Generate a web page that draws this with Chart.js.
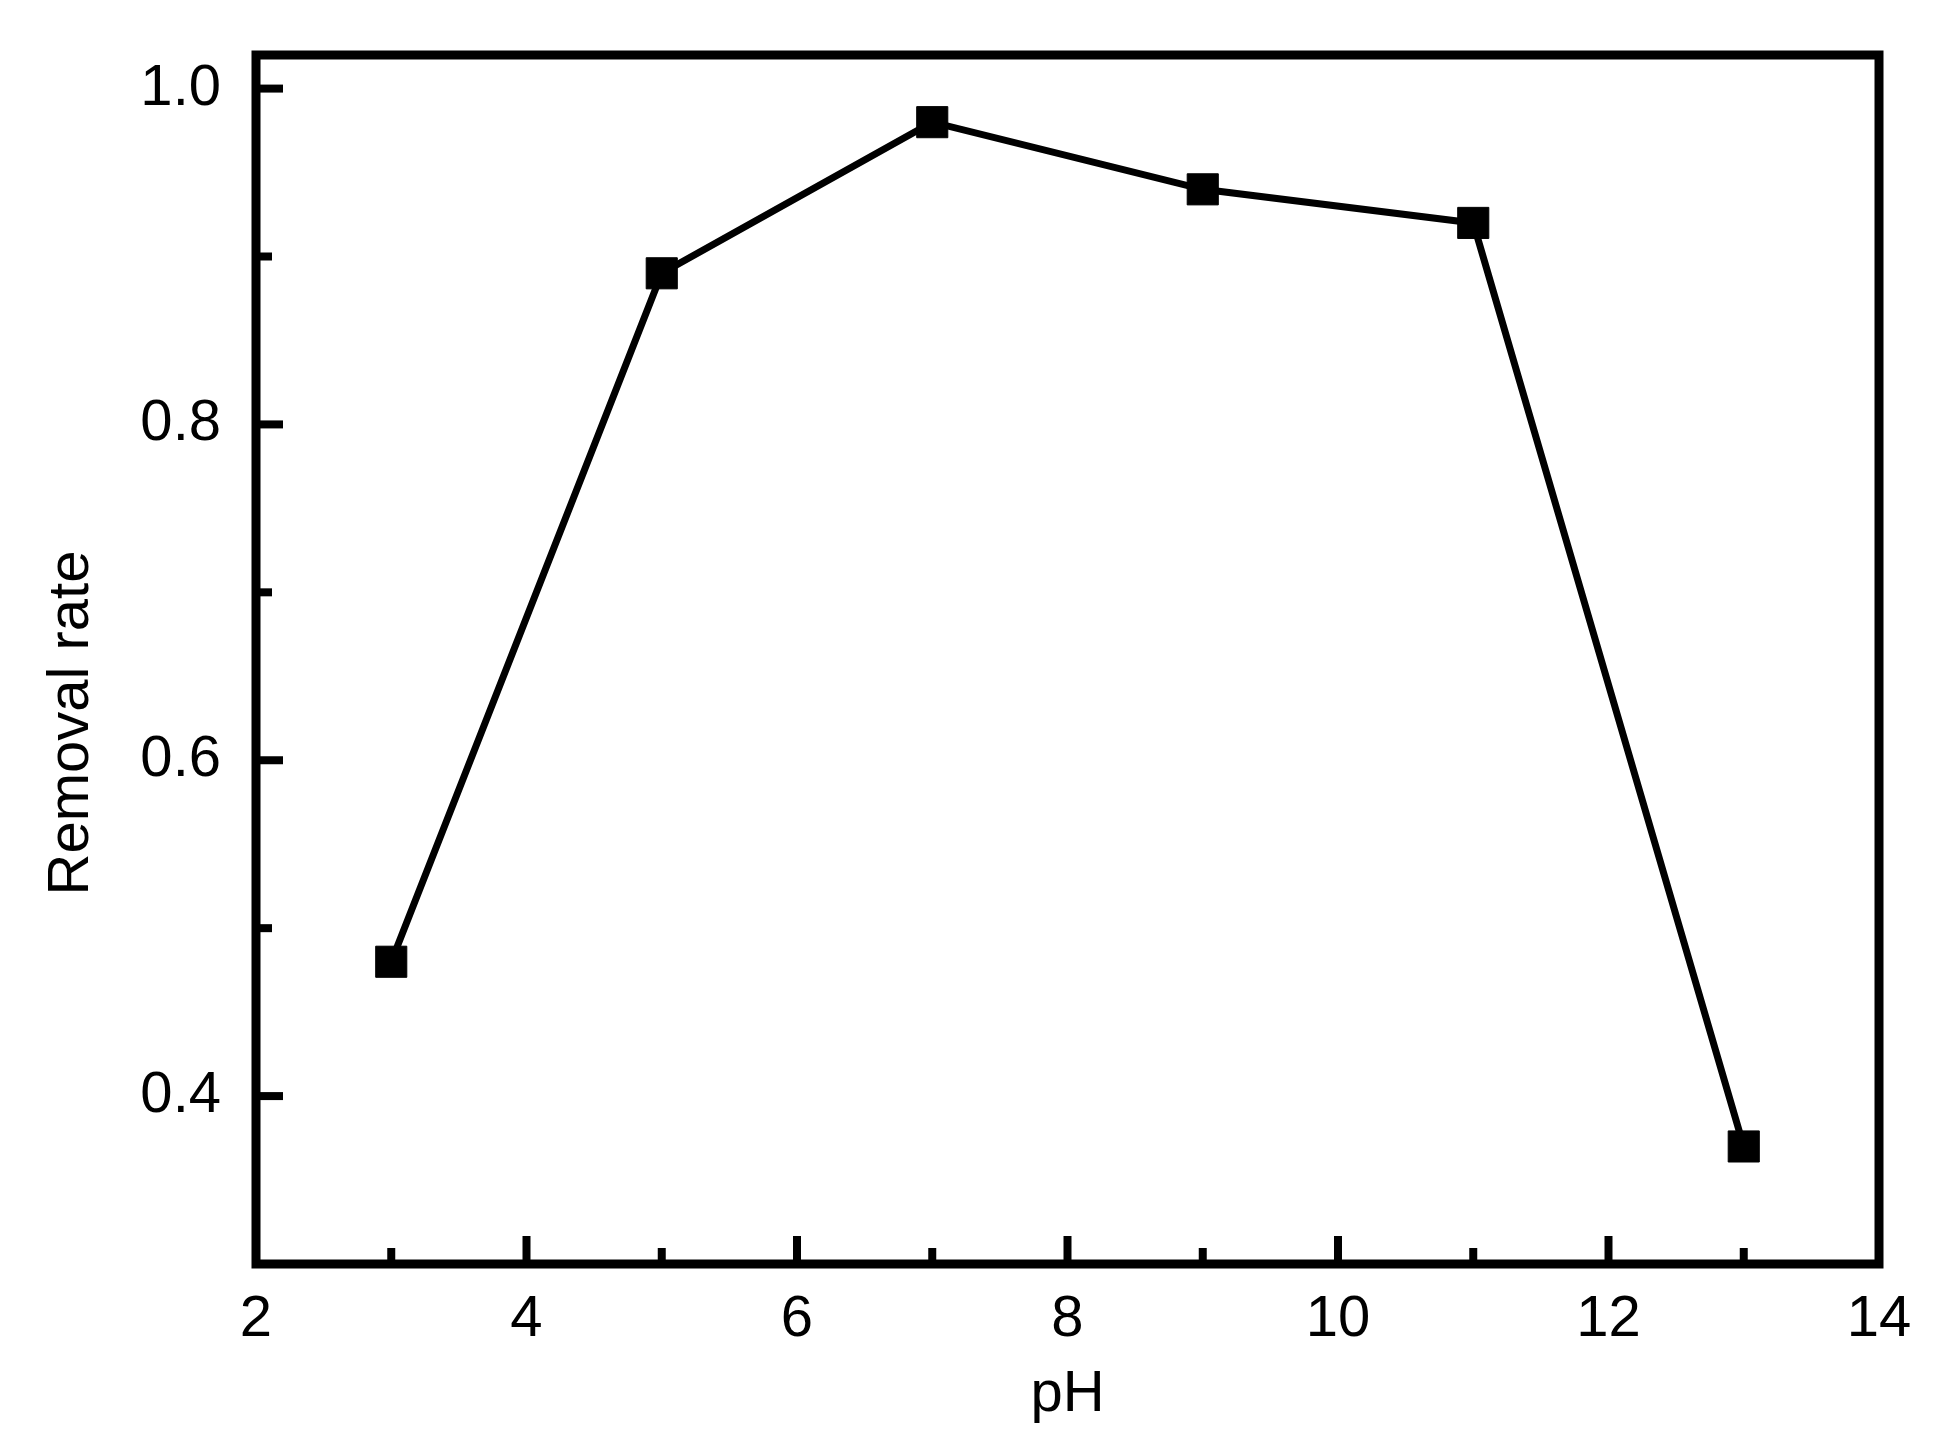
<!DOCTYPE html>
<html>
<head>
<meta charset="utf-8">
<script src="https://cdn.jsdelivr.net/npm/chart.js@4/dist/chart.umd.min.js"></script>
<style>
  html, body { margin: 0; padding: 0; background: #ffffff; }
  #wrap { width: 1948px; height: 1446px; }
</style>
</head>
<body>
<div id="wrap"><canvas id="c" width="1948" height="1446"></canvas></div>
<script>
// ---- data ----
const phValues = [3, 5, 7, 9, 11, 13];
const removalRate = [0.48, 0.89, 0.98, 0.94, 0.92, 0.37];
const xMajorTicks = [2, 4, 6, 8, 10, 12, 14];
const xMinorTicks = [3, 5, 7, 9, 11, 13];
const yMajorTicks = [0.4, 0.6, 0.8, 1.0];
const yMinorTicks = [0.5, 0.7, 0.9];
const xTitle = 'pH';
const yTitle = 'Removal rate';

const FONT = 'Liberation Sans, Arial, Helvetica, sans-serif';
const FS = 58;

const framePlugin = {
  id: 'frameAndTicks',
  afterDraw(chart) {
    const {ctx, chartArea: a, scales} = chart;
    ctx.save();
    ctx.strokeStyle = '#000';
    ctx.lineWidth = 8;
    ctx.lineCap = 'butt';
    const xs = scales.x, ys = scales.y;
    const drawX = (v, len) => {
      const px = xs.getPixelForValue(v);
      ctx.beginPath(); ctx.moveTo(px, a.bottom); ctx.lineTo(px, a.bottom - len); ctx.stroke();
    };
    const drawY = (v, len) => {
      const py = ys.getPixelForValue(v);
      ctx.beginPath(); ctx.moveTo(a.left, py); ctx.lineTo(a.left + len, py); ctx.stroke();
    };
    xMajorTicks.forEach(v => drawX(v, 28));
    xMinorTicks.forEach(v => drawX(v, 16));
    yMajorTicks.forEach(v => drawY(v, 27));
    yMinorTicks.forEach(v => drawY(v, 16));
    ctx.lineWidth = 9;
    ctx.lineJoin = 'miter';
    ctx.strokeRect(a.left, a.top, a.right - a.left, a.bottom - a.top);
    ctx.fillStyle = '#000';
    ctx.font = FS + 'px ' + FONT;
    ctx.textAlign = 'center';
    ctx.textBaseline = 'middle';
    ctx.translate(72, 723);
    ctx.rotate(-Math.PI / 2);
    ctx.fillText(yTitle, 0, 0);
    ctx.restore();
  }
};

new Chart(document.getElementById('c'), {
  type: 'line',
  data: {
    datasets: [{
      data: phValues.map((x, i) => ({x, y: removalRate[i]})),
      borderColor: '#000',
      backgroundColor: '#000',
      borderWidth: 7,
      pointStyle: 'rect',
      pointRadius: 22,
      pointBorderWidth: 1,
      pointBackgroundColor: '#000',
      pointBorderColor: '#000',
      tension: 0,
      fill: false
    }]
  },
  options: {
    responsive: false,
    animation: false,
    devicePixelRatio: 1,
    layout: { padding: { top: 55, right: 69, bottom: 0, left: 0 } },
    plugins: { legend: { display: false }, tooltip: { enabled: false } },
    scales: {
      x: {
        type: 'linear',
        min: 2, max: 14,
        grid: { display: false, drawTicks: false },
        border: { display: false },
        afterFit(s) { s.height = 1446 - 1264; s.paddingLeft = 0; s.paddingRight = 0; },
        afterBuildTicks(s) { s.ticks = xMajorTicks.map(v => ({value: v})); },
        ticks: {
          color: '#000',
          padding: 21,
          maxRotation: 0,
          autoSkip: false,
          font: { family: FONT, size: FS },
          callback: v => String(v)
        },
        title: {
          display: true,
          text: xTitle,
          color: '#000',
          font: { family: FONT, size: FS },
          padding: { top: 0, bottom: 16 }
        }
      },
      y: {
        type: 'linear',
        min: 0.3, max: 1.02,
        grid: { display: false, drawTicks: false },
        border: { display: false },
        afterFit(s) { s.width = 256; s.paddingTop = 0; s.paddingBottom = 0; },
        afterBuildTicks(s) { s.ticks = yMajorTicks.map(v => ({value: v})); },
        ticks: {
          color: '#000',
          padding: 35,
          autoSkip: false,
          font: { family: FONT, size: FS },
          callback: v => Number(v).toFixed(1)
        }
      }
    }
  },
  plugins: [framePlugin]
});
</script>
</body>
</html>
